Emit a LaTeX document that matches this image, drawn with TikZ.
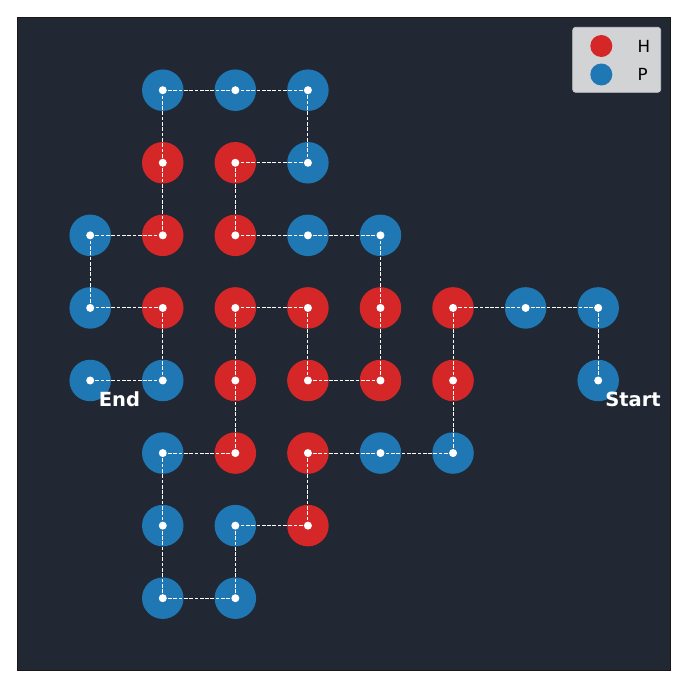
\documentclass[tikz,border=0pt]{standalone}
\usepackage{fontspec}
\setmainfont{DejaVu Sans}
\definecolor{bgdark}{HTML}{212833}
\definecolor{hred}{HTML}{D62728}
\definecolor{pblue}{HTML}{1F77B4}
\definecolor{legbg}{HTML}{D2D3D5}
\definecolor{legedge}{HTML}{C8C9CB}
\tikzset{
  hnode/.style={circle, fill=hred, minimum size=41.5pt, inner sep=0pt, draw=none},
  pnode/.style={circle, fill=pblue, minimum size=41.5pt, inner sep=0pt, draw=none},
  link/.style={white, line width=0.9pt, dash pattern=on 3.7pt off 1.6pt},
  wdot/.style={circle, fill=white, minimum size=8pt, inner sep=0pt, draw=none},
  lbl/.style={text=white, font=\bfseries\fontsize{19.5}{22}\selectfont, anchor=base, inner sep=0pt},
  legmark/.style={circle, minimum size=22pt, inner sep=0pt, draw=none},
  legtext/.style={text=black, font=\fontsize{16.7}{19}\selectfont, anchor=base west, inner sep=0pt}
}
\begin{document}
\begin{tikzpicture}[x=1pt,y=-1pt]
\useasboundingbox (0,0) rectangle (688,688);
\fill[white] (0,0) rectangle (688,688);
\fill[bgdark] (17.5,17.5) rectangle (670.5,670.5);
% residues
\foreach \gx/\gy/\c [count=\i] in {
  7/4/pnode, 7/3/pnode, 6/3/pnode, 5/3/hnode, 5/4/hnode, 5/5/pnode,
  4/5/pnode, 3/5/hnode, 3/6/hnode, 2/6/pnode, 2/7/pnode, 1/7/pnode,
  1/6/pnode, 1/5/pnode, 2/5/hnode, 2/4/hnode, 2/3/hnode, 3/3/hnode,
  3/4/hnode, 4/4/hnode, 4/3/hnode, 4/2/pnode, 3/2/pnode, 2/2/hnode,
  2/1/hnode, 3/1/pnode, 3/0/pnode, 2/0/pnode, 1/0/pnode, 1/1/hnode,
  1/2/hnode, 0/2/pnode, 0/3/pnode, 1/3/hnode, 1/4/pnode, 0/4/pnode}
  \node[\c] (n\i) at ({90.2+72.57*\gx},{90.2+72.57*\gy}) {};
% backbone
\foreach \i [evaluate=\i as \j using int(\i+1)] in {1,...,35}
  \draw[link] (n\i.center) -- (n\j.center);
\foreach \i in {1,...,36}
  \node[wdot] (d\i) at (n\i.center) {};
% labels
\node[lbl] (endlbl) at (119.5,406.5) {End};
\node[lbl] (startlbl) at (633,406.5) {Start};
% frame
\draw[black!90, line width=1.3pt] (17.5,17.5) rectangle (670.5,670.5);
% legend
\draw[fill=legbg, draw=legedge, line width=0.8pt, rounded corners=3pt] (572.7,27.3) rectangle (660.7,92.3);
\node[legmark, fill=hred] (lh) at (601.3,46) {};
\node[legmark, fill=pblue] (lp) at (601.3,74.5) {};
\node[legtext] (th) at (637.5,52) {H};
\node[legtext] (tp) at (637.5,80.5) {P};
\end{tikzpicture}
\end{document}
